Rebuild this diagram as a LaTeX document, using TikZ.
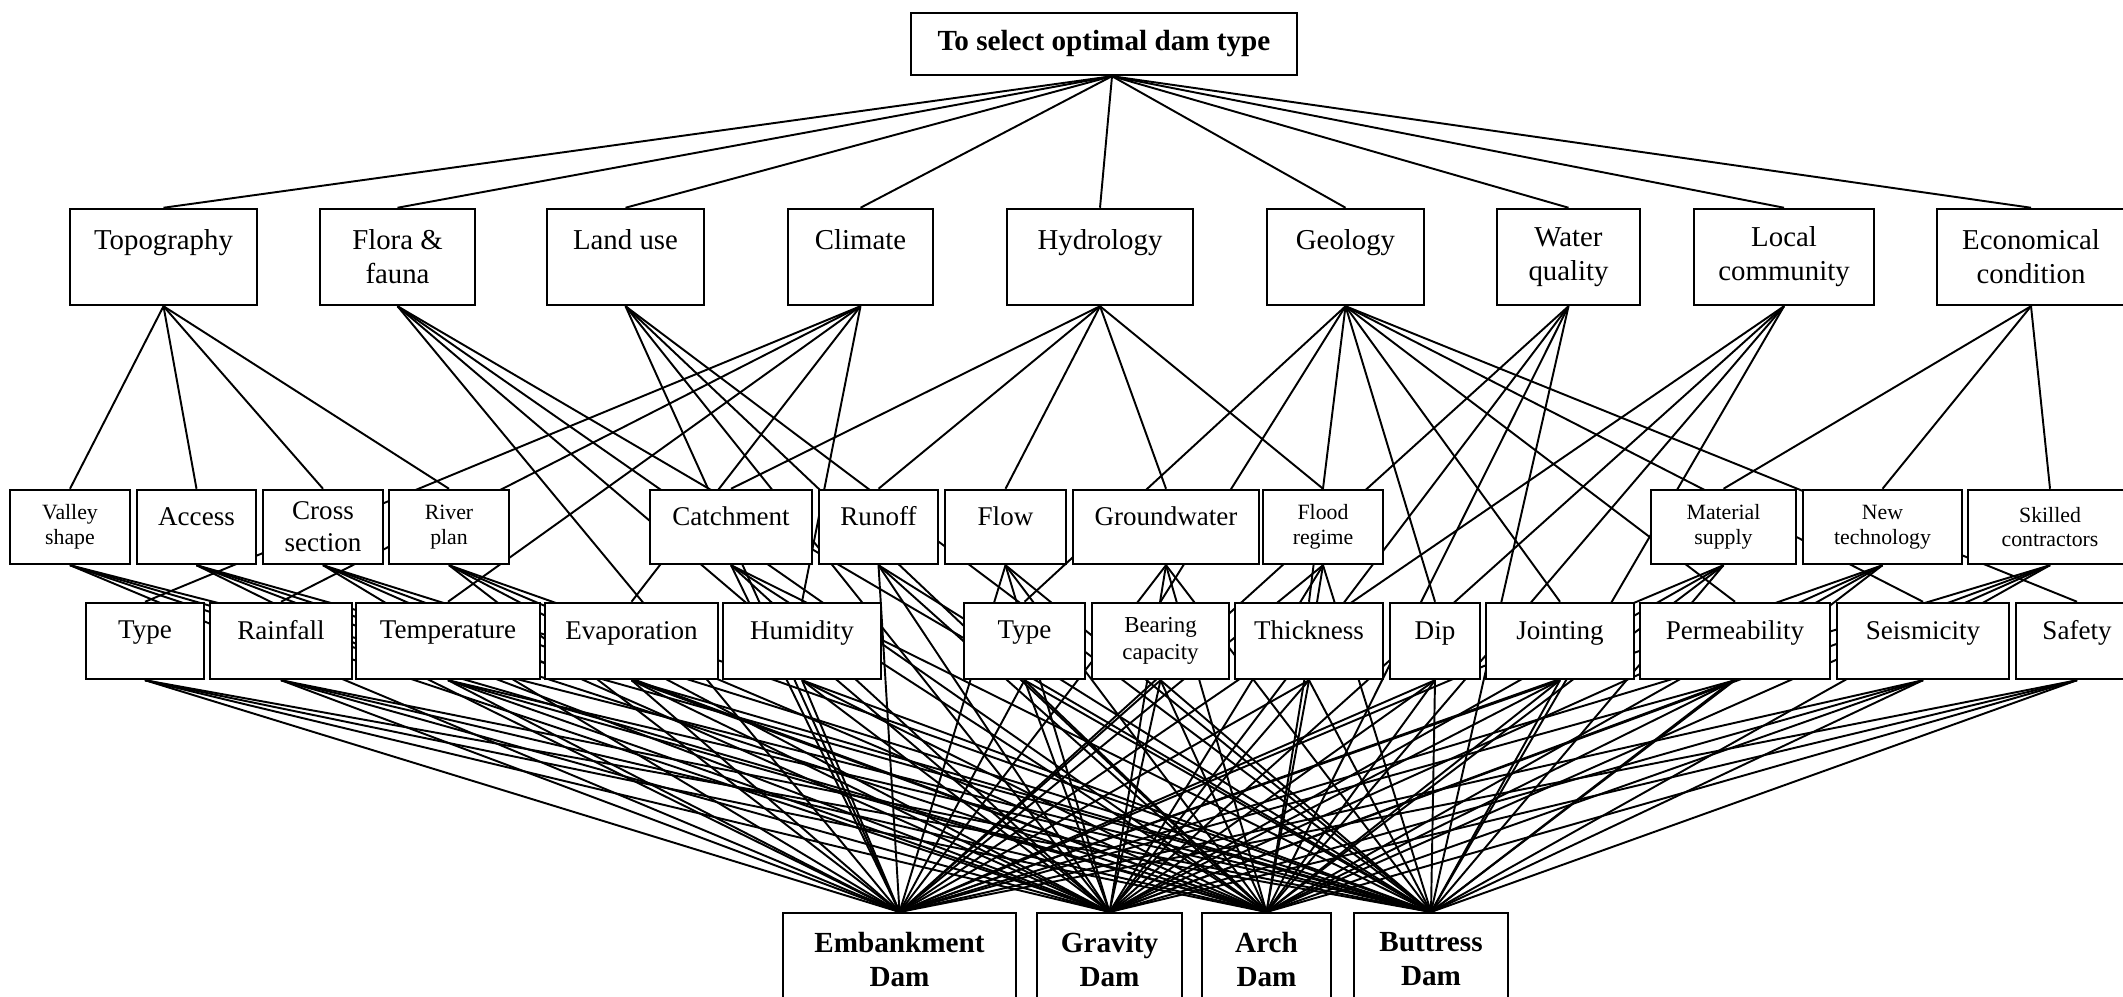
\documentclass[tikz,border=0pt]{standalone}
\usepackage{fontspec}
\setmainfont{Liberation Serif}
\usetikzlibrary{backgrounds}

\begin{document}
\begin{tikzpicture}[
    every node/.style={font=\fontsize{7.7}{9.2}\selectfont},
    box/.style={rectangle, draw=black, fill=white, line width=0.7pt,
                align=center, inner sep=1pt},
    goal/.style={box, font=\bfseries\fontsize{8.3}{9.7}\selectfont,
                 minimum height=0.62cm},
    crit/.style={box, font=\fontsize{8.2}{9.7}\selectfont,
                 minimum height=0.96cm},
    subA/.style={box, minimum height=0.74cm},
    subB/.style={box, minimum height=0.76cm},
    small/.style={font=\fontsize{6.2}{7.0}\selectfont},
    dam/.style={box, font=\bfseries\fontsize{8.3}{9.7}\selectfont,
                minimum height=0.92cm, anchor=north},
    link/.style={line width=0.55pt, color=black},
]

\useasboundingbox (0,0) rectangle (21.23,9.97);
\clip (0,0) rectangle (21.23,9.97);

% ================================================================ goal
\node[goal, minimum width=3.86cm] (goal) at (11.04, 9.53) {To select optimal dam type};
\coordinate (hub) at ([xshift=0.08cm]goal.south);

% ============================================================ criteria
\node[crit, minimum width=1.87cm] (topo)  at (1.635, 7.40) {Topography\\~};
\node[crit, minimum width=1.55cm] (flora) at (3.975, 7.40) {Flora \&\\ fauna};
\node[crit, minimum width=1.57cm] (land)  at (6.255, 7.40) {Land use\\~};
\node[crit, minimum width=1.45cm] (clim)  at (8.605, 7.40) {Climate\\~};
\node[crit, minimum width=1.86cm] (hydro) at (11.00, 7.40) {Hydrology\\~};
\node[crit, minimum width=1.57cm] (geo)   at (13.455, 7.40) {Geology\\~};
\node[crit, minimum width=1.43cm] (water) at (15.685, 7.40) {Water\\ quality};
\node[crit, minimum width=1.80cm] (local) at (17.84, 7.40) {Local\\ community};
\node[crit, minimum width=1.88cm] (econ)  at (20.31, 7.40) {Economical\\ condition};

% ======================================================= sub-criteria, upper row
\node[subA, small, minimum width=1.20cm] (valley)  at (0.70, 4.70)   {Valley\\ shape};
\node[subA, minimum width=1.19cm]        (access)  at (1.965, 4.70)  {Access\\[-3pt]~};
\node[subA, minimum width=1.20cm]        (cross)   at (3.23, 4.70)   {Cross\\ section};
\node[subA, small, minimum width=1.20cm] (river)   at (4.49, 4.70)   {River\\ plan};
\node[subA, minimum width=1.62cm]        (catch)   at (7.31, 4.70)   {Catchment\\[-3pt]~};
\node[subA, minimum width=1.19cm]        (runoff)  at (8.785, 4.70)  {Runoff\\[-3pt]~};
\node[subA, minimum width=1.21cm]        (flow)    at (10.055, 4.70) {Flow\\[-3pt]~};
\node[subA, minimum width=1.86cm]        (ground)  at (11.66, 4.70)  {Groundwater\\[-3pt]~};
\node[subA, small, minimum width=1.20cm] (flood)   at (13.23, 4.70)  {Flood\\ regime};
\node[subA, small, minimum width=1.45cm] (mater)   at (17.235, 4.70) {Material\\ supply};
\node[subA, small, minimum width=1.59cm] (newtech) at (18.825, 4.70) {New\\ technology};
\node[subA, small, minimum width=1.64cm] (skill)   at (20.50, 4.70)  {Skilled\\ contractors};

% ======================================================= sub-criteria, lower row
\node[subB, minimum width=1.18cm] (ctype) at (1.45, 3.56)   {Type\\[-3pt]~};
\node[subB, minimum width=1.42cm] (rain)  at (2.81, 3.56)   {Rainfall\\[-3pt]~};
\node[subB, minimum width=1.84cm] (temp)  at (4.48, 3.56)   {Temperature\\[-3pt]~};
\node[subB, minimum width=1.73cm] (evap)  at (6.315, 3.56)  {Evaporation\\[-3pt]~};
\node[subB, minimum width=1.58cm] (humid) at (8.02, 3.56)   {Humidity\\[-3pt]~};
\node[subB, minimum width=1.21cm] (gtype) at (10.245, 3.56) {Type\\[-3pt]~};
\node[subB, minimum width=1.37cm, font=\fontsize{6.5}{7.7}\selectfont]
      (bear) at (11.605, 3.56) {Bearing\\ capacity};
\node[subB, minimum width=1.48cm] (thick) at (13.09, 3.56)  {Thickness\\[-3pt]~};
\node[subB, minimum width=0.90cm] (dip)   at (14.35, 3.56)  {Dip\\[-3pt]~};
\node[subB, minimum width=1.48cm] (joint) at (15.60, 3.56)  {Jointing\\[-3pt]~};
\node[subB, minimum width=1.90cm] (perm)  at (17.35, 3.56)  {Permeability\\[-3pt]~};
\node[subB, minimum width=1.72cm] (seis)  at (19.23, 3.56)  {Seismicity\\[-3pt]~};
\node[subB, minimum width=1.22cm] (safe)  at (20.77, 3.56)  {Safety\\[-3pt]~};

% ========================================================= alternatives
\node[dam, minimum width=2.33cm] (emb)  at (8.995, 0.85)  {Embankment\\ Dam};
\node[dam, minimum width=1.45cm] (grav) at (11.095, 0.85) {Gravity\\ Dam};
\node[dam, minimum width=1.29cm] (arc)  at (12.665, 0.85) {Arch\\ Dam};
\node[dam, minimum width=1.54cm] (but)  at (14.31, 0.85)  {Buttress\\ Dam};

% ========================================================== connectors
\begin{scope}[on background layer]
  \foreach \c in {topo, flora, land, clim, hydro, geo, water, local, econ}
    \draw[link] (hub) -- (\c.north);

  \foreach \s in {valley, access, cross, river}
    \draw[link] (topo.south) -- (\s.north);
  \foreach \s in {ctype, rain, temp, evap, humid}
    \draw[link] (clim.south) -- (\s.north);
  \foreach \s in {catch, runoff, flow, ground, flood}
    \draw[link] (hydro.south) -- (\s.north);
  \foreach \s in {gtype, bear, thick, dip, joint, perm, seis, safe}
    \draw[link] (geo.south) -- (\s.north);
  \foreach \s in {mater, newtech, skill}
    \draw[link] (econ.south) -- (\s.north);

  % every leaf to every dam type
  \foreach \s in {flora, land, water, local,
                  valley, access, cross, river, catch, runoff, flow, ground, flood,
                  mater, newtech, skill,
                  ctype, rain, temp, evap, humid,
                  gtype, bear, thick, dip, joint, perm, seis, safe}
    \foreach \d in {emb, grav, arc, but}
      \draw[link] (\s.south) -- (\d.north);
\end{scope}

\end{tikzpicture}
\end{document}
